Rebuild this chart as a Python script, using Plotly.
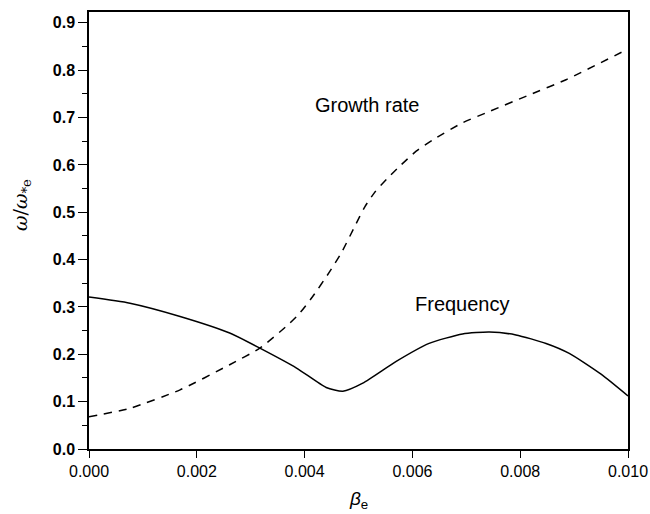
import plotly.graph_objects as go

# Data
freq_x = [0.0, 0.00076, 0.00169, 0.00261, 0.00317, 0.00385, 0.0044, 0.00471, 0.00508,
          0.0057, 0.00631, 0.00693, 0.00743, 0.00792, 0.00848, 0.00891, 0.0095, 0.010]
freq_y = [0.321, 0.308, 0.280, 0.245, 0.213, 0.171, 0.130, 0.122, 0.139,
          0.185, 0.223, 0.243, 0.247, 0.241, 0.223, 0.202, 0.158, 0.112]

growth_x = [0.0, 0.00076, 0.00169, 0.00261, 0.00317, 0.00366, 0.00388, 0.00415, 0.00445,
            0.00468, 0.00493, 0.00512, 0.00530, 0.00554, 0.00579, 0.00607, 0.00638,
            0.00693, 0.00743, 0.00817, 0.00885, 0.00995]
growth_y = [0.068, 0.086, 0.125, 0.178, 0.213, 0.259, 0.283, 0.322, 0.372,
            0.414, 0.470, 0.512, 0.542, 0.572, 0.600, 0.629, 0.653,
            0.689, 0.713, 0.748, 0.780, 0.842]

x_ticks = [0.000, 0.002, 0.004, 0.006, 0.008, 0.010]
x_tick_labels = ["0.000", "0.002", "0.004", "0.006", "0.008", "0.010"]
y_ticks = [0.0, 0.1, 0.2, 0.3, 0.4, 0.5, 0.6, 0.7, 0.8, 0.9]
y_tick_labels = ["<b>%.1f</b>" % v for v in y_ticks]

FONT = "Liberation Sans, Arial, sans-serif"

W, H = 650, 514
L, R, T, B = 89, 22, 12, 65
PW, PH = W - L - R, H - T - B

fig = go.Figure()
fig.add_trace(go.Scatter(x=freq_x, y=freq_y, mode="lines", name="Frequency",
                         line=dict(color="black", width=1.5, shape="spline", smoothing=0.6)))
fig.add_trace(go.Scatter(x=growth_x, y=growth_y, mode="lines", name="Growth rate",
                         line=dict(color="black", width=1.5, dash="8px,7px",
                                   shape="spline", smoothing=0.6)))

fig.update_layout(
    width=W, height=H,
    margin=dict(l=L, r=R, t=T, b=B, autoexpand=False),
    paper_bgcolor="white", plot_bgcolor="white",
    showlegend=False,
    font=dict(family=FONT, color="black"),
    xaxis=dict(range=[0, 0.010], tickvals=x_ticks, ticktext=x_tick_labels,
               automargin=False,
               showgrid=False, zeroline=False, showline=True, linecolor="black",
               linewidth=1.5, mirror=True, ticks="outside", ticklen=7, tickwidth=1.2,
               tickcolor="black", tickfont=dict(size=16, family=FONT)),
    yaxis=dict(range=[0, 0.923], tickvals=y_ticks, ticktext=y_tick_labels,
               automargin=False,
               showgrid=False, zeroline=False, showline=True, linecolor="black",
               linewidth=1.5, mirror=True, ticks="outside", ticklen=9, tickwidth=1.2,
               tickcolor="black", tickfont=dict(size=16, family=FONT),
               minor=dict(dtick=0.05, tick0=0, ticks="outside", ticklen=5,
                          tickwidth=1.2, tickcolor="black", showgrid=False)),
)

fig.add_annotation(x=0.00515, y=0.727, xref="x", yref="y", text="Growth rate",
                   showarrow=False, font=dict(size=20, family=FONT))
fig.add_annotation(x=0.00693, y=0.307, xref="x", yref="y", text="Frequency",
                   showarrow=False, font=dict(size=20, family=FONT))

# axis titles placed in paper coordinates
fig.add_annotation(x=(21 - L) / PW, y=(H - B - 205) / PH, xref="paper", yref="paper",
                   xanchor="center", yanchor="middle",
                   text="<i>ω</i>/<i>ω</i><sub>*e</sub>", textangle=-90, showarrow=False,
                   font=dict(size=19, family="DejaVu Serif, serif"))
fig.add_annotation(x=(358 - L) / PW, y=-(500 - (H - B)) / PH, xref="paper", yref="paper",
                   xanchor="center", yanchor="middle",
                   text="<i>β</i><sub>e</sub>", showarrow=False,
                   font=dict(size=19, family=FONT))

fig.write_html(
    "out.html",
    config={"displayModeBar": False},
    post_script="document.body.style.margin='0';document.body.style.overflow='hidden';",
)
